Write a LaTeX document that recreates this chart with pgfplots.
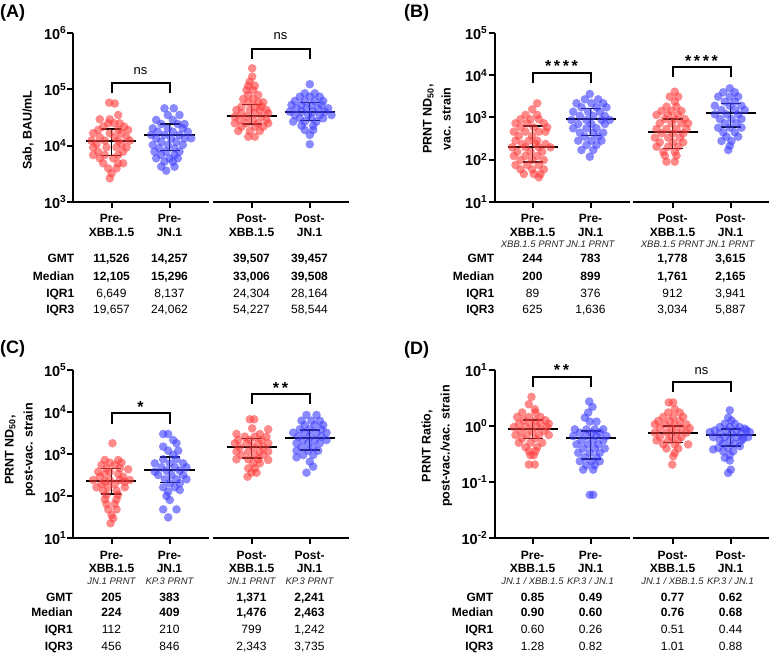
\documentclass[border=0pt]{standalone}
\usepackage{fontspec}
\setmainfont{Liberation Sans}
\usepackage{pgfplots}
\pgfplotsset{compat=1.18}
\definecolor{dred}{RGB}{255,60,60}
\definecolor{dblue}{RGB}{60,60,255}
\pgfplotsset{
  /pgfplots/pnl/.style={
    scale only axis, xmin=0, clip=false,
    axis x line=none, axis y line*=left,
    axis line style={line width=2pt},
    ytick style={line width=2pt, black},
    major tick length=6pt, tick align=outside,
    yminorticks=false,
    yticklabel style={font=\fontsize{14.5}{14.5}\selectfont\bfseries, inner sep=1pt},
  },
  /pgfplots/reddots/.style={only marks, mark=*, mark size=4.3pt, forget plot,
    mark options={draw=dred, fill=dred, fill opacity=0.6, draw opacity=0}},
  /pgfplots/bluedots/.style={only marks, mark=*, mark size=4.3pt, forget plot,
    mark options={draw=dblue, fill=dblue, fill opacity=0.6, draw opacity=0}},
}
% #1 left end, #2 centre, #3 right end, #4 cap left, #5 cap right, #6 median, #7 q1, #8 q3
\newcommand{\summ}[8]{%
  \addplot[black, line width=2pt, no markers, forget plot] coordinates {(#1,#6) (#3,#6)};
  \addplot[black, line width=1.5pt, no markers, forget plot] coordinates {(#2,#7) (#2,#8)};
  \addplot[black, line width=1.5pt, no markers, forget plot] coordinates {(#4,#7) (#5,#7)};
  \addplot[black, line width=1.5pt, no markers, forget plot] coordinates {(#4,#8) (#5,#8)};
}
\tikzset{
  catl/.style={font=\fontsize{12}{12}\selectfont\bfseries, inner sep=0pt, text height=8.6pt, text depth=0pt, anchor=center},
  subl/.style={font=\fontsize{9.5}{9.5}\selectfont\itshape, text=black!85, inner sep=0pt, text height=6.8pt, text depth=0pt, anchor=center},
  tvb/.style={font=\fontsize{12}{12}\selectfont\bfseries, inner sep=0pt, text height=8.6pt, text depth=0pt, anchor=center},
  tvr/.style={font=\fontsize{12}{12}\selectfont, inner sep=0pt, text height=8.6pt, text depth=0pt, anchor=center},
  rowl/.style={font=\fontsize{12}{12}\selectfont\bfseries, inner sep=0pt, text height=8.6pt, text depth=0pt, anchor=east},
  ylab/.style={font=\fontsize{12.5}{19}\selectfont\bfseries, rotate=90, align=center, inner sep=0pt},
  plab/.style={font=\fontsize{18}{18}\selectfont\bfseries, anchor=base west, inner sep=0pt},
  sigl/.style={font=\fontsize{13}{13}\selectfont, anchor=base, inner sep=0pt},
  astl/.style={font=\fontsize{16}{16}\selectfont\bfseries, anchor=base, inner sep=0pt},
  brk/.style={line width=2pt},
}
\newcommand{\vals}[6]{%
  \node[#2] at (\ca,#1) {#3};
  \node[#2] at (\cb,#1) {#4};
  \node[#2] at (\cc,#1) {#5};
  \node[#2] at (\cd,#1) {#6};}
\begin{document}
\begin{tikzpicture}
\path[use as bounding box] (0pt,0pt) rectangle (769pt,653pt);

%================ (A)
\begin{axis}[pnl, ymode=log, at={(73.5pt,451pt)}, anchor=south west, width=275pt, height=169pt,
  xmax=275, ymin=1e3, ymax=1e6, ytick={1e3,1e4,1e5,1e6},
  yticklabels={10\textsuperscript{3},10\textsuperscript{4},10\textsuperscript{5},10\textsuperscript{6}}]
\addplot[reddots] table {
x y
35.7 57900
41.3 56000
44.7 35000
26.3 29400
36.3 29400
34.7 24900
40.7 24900
46.3 24900
29.7 21700
50.7 21700
24.7 19000
44.7 19000
54.7 19000
19.7 16600
36.3 16600
48 16600
26.3 14100
41.3 14100
53 14100
18 12300
31.3 12300
44.7 12300
56.3 12300
23 10700
48 10700
19.7 9340
33 9340
43 9340
53 9340
24.7 7820
49.7 7820
19.7 6830
31.3 6830
44.7 6830
26.3 5960
39.7 5960
29.7 4860
44.7 4860
49.7 4860
34.7 3960
43 3960
38 3230
36.3 2630
};
\addplot[bluedots] table {
x y
91 46000
100.3 46000
94.3 35000
106 35000
82.7 28600
99.3 28600
87.7 24200
104.3 24200
111 24200
79.3 20300
94.3 20300
109.3 20300
84.3 17700
99.3 17700
114.3 17700
77.7 15500
91 15500
106 15500
82.7 13500
97.7 13500
111 13500
117.7 13500
87.7 11800
102.7 11800
79.3 10300
94.3 10300
109.3 10300
86 8980
101 8980
81 7820
92.7 7820
106 7820
87.7 6830
101 6830
82.7 5960
96 5960
104.3 5960
91 5200
99.3 5200
87.7 4240
101 4240
92.7 3600
};
\addplot[reddots] table {
x y
178.7 236000
178.7 168000
176.3 137000
174.7 116000
181.3 116000
173 97300
179.7 97300
174.7 79400
184.7 79400
169.7 67400
179.7 67400
174.7 58800
184.7 58800
189.7 58800
168 49200
181.3 49200
188 49200
163 43000
176.3 43000
186.3 43000
193 43000
168 37500
181.3 37500
194.7 37500
161.3 32700
173 32700
188 32700
166.3 28600
179.7 28600
193 28600
161.3 24900
173 24900
184.7 24900
194.7 24900
168 21700
181.3 21700
189.7 21700
164.7 18200
176.3 18200
186.3 18200
174.7 14400
181.3 14400
};
\addplot[bluedots] table {
x y
236.3 123000
231.3 85000
241.3 85000
226.3 74100
236.3 74100
246.3 74100
221.3 62100
231.3 62100
241.3 62100
249.7 62100
218 52700
228 52700
238 52700
248 52700
223 46000
233 46000
244.7 46000
254.7 46000
216.3 40100
228 40100
239.7 40100
251.3 40100
221.3 35000
234.7 35000
246.3 35000
258 35000
226.3 30600
238 30600
249.7 30600
219.7 26700
231.3 26700
243 26700
228 22600
239.7 22600
231.3 19000
239.7 19000
236.3 15500
236.3 10600
};
\summ{13}{38}{63}{28}{48}{12105}{6649}{19657}
\summ{71}{96}{121}{86}{106}{15296}{8137}{24062}
\summ{153}{178}{203}{168}{188}{33006}{24304}{54227}
\summ{211}{236}{261}{226}{246}{39508}{28164}{58544}
\end{axis}

%================ (B)
\begin{axis}[pnl, ymode=log, at={(494.5pt,451pt)}, anchor=south west, width=274pt, height=169pt,
  xmax=274, ymin=1e1, ymax=1e5, ytick={1e1,1e2,1e3,1e4,1e5},
  yticklabels={10\textsuperscript{1},10\textsuperscript{2},10\textsuperscript{3},10\textsuperscript{4},10\textsuperscript{5}}]
\addplot[reddots] table {
x y
42.7 2170
37.7 1560
31 1150
42.7 1150
26 906
36 906
44.3 906
21 728
32.7 728
49.3 728
26 585
39.3 585
52.7 585
19.3 462
31 462
44.3 462
51 462
24.3 365
37.7 365
21 283
34.3 283
42.7 283
27.7 236
41 236
51 236
17.7 197
31 197
44.3 197
56 197
22.7 155
36 155
47.7 155
19.3 123
31 123
42.7 123
26 98.6
37.7 98.6
49.3 98.6
21 75.1
32.7 75.1
44.3 75.1
26 59.3
37.7 59.3
49.3 59.3
29.3 46
39.3 46
46 46
44.3 38.4
};
\addplot[bluedots] table {
x y
95.3 3600
90.3 2690
103.7 2690
82 2170
97 2170
108.7 2170
87 1740
102 1740
112 1740
78.7 1370
93.7 1370
105.3 1370
85.3 1090
98.7 1090
110.3 1090
77 873
92 873
107 873
115.3 873
83.7 702
97 702
110.3 702
78.7 555
92 555
102 555
85.3 437
98.7 437
108.7 437
90.3 352
103.7 352
83.7 283
97 283
107 283
92 223
102 223
87 170
98.7 170
95.3 118
};
\addplot[reddots] table {
x y
180.3 4080
175.3 3110
183.7 3110
180.3 2370
172 1800
182 1800
167 1430
177 1430
187 1430
162 1150
173.7 1150
183.7 1150
170.3 921
180.3 921
190.3 921
165.3 728
177 728
187 728
193.7 728
162 535
172 535
182 535
192 535
167 422
178.7 422
188.7 422
160.3 333
173.7 333
185.3 333
165.3 258
178.7 258
188.7 258
162 204
173.7 204
183.7 204
168.7 155
180.3 155
170.3 125
182 125
172 90
180.3 90
};
\addplot[bluedots] table {
x y
235.3 4900
228.7 3950
240.3 3950
223.7 3110
235.3 3110
243.7 3110
230.3 2370
240.3 2370
220.3 1900
235.3 1900
247 1900
227 1500
240.3 1500
250.3 1500
220.3 1190
232 1190
243.7 1190
225.3 921
237 921
247 921
230.3 728
242 728
223.7 574
235.3 574
247 574
228.7 446
240.3 446
232 352
243.7 352
227 278
237 278
235.3 215
233.7 170
};
\summ{13}{38}{63}{28}{48}{200}{89}{625}
\summ{71}{96}{121}{86}{106}{899}{376}{1636}
\summ{153}{178}{203}{168}{188}{446}{185}{915}
\summ{211}{236}{261}{226}{246}{1280}{590}{2170}
\end{axis}

%================ (C)
\begin{axis}[pnl, ymode=log, at={(73.5pt,115pt)}, anchor=south west, width=275pt, height=168pt,
  xmax=275, ymin=1e1, ymax=1e5, ytick={1e1,1e2,1e3,1e4,1e5},
  yticklabels={10\textsuperscript{1},10\textsuperscript{2},10\textsuperscript{3},10\textsuperscript{4},10\textsuperscript{5}}]
\addplot[reddots] table {
x y
39 1800
31.3 720
44.7 720
36.3 622
48 622
28 547
41.3 547
33 456
46.3 456
54.7 432
24.7 379
36.3 379
31.3 334
44.7 334
26.3 288
49.7 288
19.7 240
36.3 240
46.3 240
56.3 240
31.3 219
51.3 219
28 193
41.3 193
23 161
34.7 161
51.3 161
29.7 134
43 134
33 106
44.7 106
31.3 83
43 83
33 64.5
41.3 64.5
34.7 48
43 48
38 35.3
39.7 29.4
37 22.4
};
\addplot[bluedots] table {
x y
89.7 2990
94.7 2990
99.7 2150
103 1800
89.7 1500
94.7 1200
104.7 1200
99.7 947
89.7 747
103 747
81.3 600
96.3 600
109.7 600
88 482
101.3 482
113 482
93 401
106.3 401
81.3 379
84.7 316
98 316
109.7 316
91.3 250
103 250
113 250
96.3 200
106.3 200
89.7 161
101.3 161
106.3 139
94.7 127
93 100
96.3 80.3
89.7 48
103 48
94.7 31
};
\addplot[reddots] table {
x y
176.3 6690
180.7 6690
178.7 4080
194.7 3870
163 2990
186.3 2990
171.3 2590
181.3 2590
193 2590
164.7 2150
176.3 2150
188 2150
161.3 1800
173 1800
184.7 1800
194.7 1800
166.3 1440
179.7 1440
189.7 1440
163 1140
174.7 1140
186.3 1140
194.7 1140
168 947
181.3 947
189.7 947
163 747
174.7 747
184.7 747
194.7 720
179.7 600
186.3 600
174.7 456
181.3 456
178 359
183 359
174 288
};
\addplot[bluedots] table {
x y
233 8490
243 8490
228 6220
238 6220
246.3 6220
231.3 4900
241.3 4900
249.7 4900
226.3 3870
236.3 3870
248 3870
219.7 3220
231.3 3220
243 3220
253 3220
224.7 2590
236.3 2590
248 2590
229.7 2150
241.3 2150
253 2150
223 1800
234.7 1800
246.3 1800
228 1440
239.7 1440
223 1200
234.7 1200
244.7 1200
229.7 947
239.7 947
223 834
236.3 656
239.7 499
233 359
};
\summ{13}{38}{63}{28}{48}{224}{112}{456}
\summ{71}{96}{121}{86}{106}{409}{210}{846}
\summ{153}{178}{203}{168}{188}{1476}{799}{2343}
\summ{211}{236}{261}{226}{246}{2463}{1242}{3735}
\end{axis}

%================ (D)
\begin{axis}[pnl, ymode=log, at={(494.5pt,115pt)}, anchor=south west, width=274pt, height=168pt,
  xmax=274, ymin=1e-2, ymax=1e1, ytick={1e-2,1e-1,1e0,1e1},
  yticklabels={10\textsuperscript{-2},10\textsuperscript{-1},10\textsuperscript{0},10\textsuperscript{1}}]
\addplot[reddots] table {
x y
37 3.31
34.3 2.45
40.3 1.99
27.7 1.74
41 1.74
22.7 1.45
34.3 1.45
46 1.45
29.3 1.26
41 1.26
51 1.26
24.3 1.10
36 1.10
46 1.10
54.3 1.10
19.3 0.957
31 0.957
42.7 0.957
52.7 0.957
26 0.811
37.7 0.811
49.3 0.811
21 0.689
32.7 0.689
44.3 0.689
54.3 0.689
27.7 0.600
41 0.600
24.3 0.502
36 0.502
47.7 0.502
31 0.419
42.7 0.419
34.3 0.355
41 0.355
36 0.301
39.3 0.301
34.3 0.205
40.3 0.205
};
\addplot[bluedots] table {
x y
94.7 2.74
98 2.19
93.7 1.74
90.3 1.41
95.3 1.20
102 1.20
80.3 0.871
92 0.871
100.3 0.871
108.7 0.871
85.3 0.760
97 0.760
105.3 0.760
78.7 0.661
92 0.661
102 0.661
112 0.661
87 0.552
98.7 0.552
108.7 0.552
82 0.469
93.7 0.469
103.7 0.469
88.7 0.397
100.3 0.397
110.3 0.397
83.7 0.332
95.3 0.332
105.3 0.332
90.3 0.277
102 0.277
85.3 0.235
97 0.235
105.3 0.235
92 0.199
100.3 0.199
88.7 0.166
98.7 0.166
95.3 0.059
98.7 0.059
};
\addplot[reddots] table {
x y
174.3 2.63
178.7 2.63
180.3 1.99
173.7 1.74
185.3 1.74
168.7 1.45
178.7 1.45
188.7 1.45
163.7 1.23
175.3 1.23
185.3 1.23
160.3 1.07
170.3 1.07
180.3 1.07
192 1.07
165.3 0.908
177 0.908
187 0.908
195.3 0.908
160.3 0.760
172 0.760
182 0.760
192 0.760
165.3 0.634
177 0.634
187 0.634
162 0.552
173.7 0.552
183.7 0.552
168.7 0.469
180.3 0.469
193.7 0.469
172 0.397
183.7 0.397
180.3 0.332
178.7 0.288
177.7 0.205
};
\addplot[bluedots] table {
x y
235.3 1.91
233.7 1.41
237 1.26
230.3 1.10
240.3 1.10
225.3 0.957
235.3 0.957
245.3 0.957
250.3 0.895
220.3 0.836
232 0.836
242 0.836
252 0.836
215.3 0.780
255.3 0.780
225.3 0.728
237 0.728
247 0.728
218.7 0.634
230.3 0.634
242 0.634
253.7 0.634
248.7 0.593
225.3 0.552
235.3 0.552
247 0.552
228.7 0.482
240.3 0.482
245.3 0.436
223.7 0.408
233.7 0.408
218.7 0.381
228.7 0.355
238.7 0.355
235.3 0.301
230.3 0.270
235.3 0.242
236.3 0.166
233.7 0.145
};
\summ{13}{38}{63}{28}{48}{0.90}{0.60}{1.28}
\summ{71}{96}{121}{86}{106}{0.60}{0.26}{0.82}
\summ{153}{178}{203}{168}{188}{0.76}{0.51}{1.01}
\summ{211}{236}{261}{226}{246}{0.68}{0.44}{0.88}
\end{axis}

%================ annotations in pixel coordinates (y downward)
\begin{scope}[x=1pt, y=-1pt, yshift=653pt]
% ---- (A)
\node[plab] at (0,18) {(A)};
\node[ylab] at (28,130) {Sab, BAU/mL};
\draw[line width=2pt] (72.5,202) -- (209,202) (213,202) -- (348.5,202);
\foreach \c in {111.5,169.5,251.5,309.5} \draw[line width=2pt] (\c,202) -- (\c,208);
\draw[brk] (111.5,93.3) -- (111.5,83.3) -- (169.5,83.3) -- (169.5,93.3);
\node[sigl] at (140.5,75) {ns};
\draw[brk] (251.5,58.7) -- (251.5,49.3) -- (309.5,49.3) -- (309.5,58.7);
\node[sigl] at (280.5,39.4) {ns};
\def\ca{111.5}\def\cb{169.5}\def\cc{251.5}\def\cd{309.5}
\vals{218}{catl}{Pre-}{Pre-}{Post-}{Post-}
\vals{232}{catl}{XBB.1.5}{JN.1}{XBB.1.5}{JN.1}
\node[rowl] at (74.5,258) {GMT};
\node[rowl] at (74.5,276) {Median};
\node[rowl] at (74.5,293) {IQR1};
\node[rowl] at (74.5,309) {IQR3};
\vals{258}{tvb}{11,526}{14,257}{39,507}{39,457}
\vals{276}{tvb}{12,105}{15,296}{33,006}{39,508}
\vals{293}{tvr}{6,649}{8,137}{24,304}{28,164}
\vals{309}{tvr}{19,657}{24,062}{54,227}{58,544}

% ---- (B)
\node[plab] at (404,18) {(B)};
\node[ylab] at (437,119) {PRNT ND\textsubscript{50},\\vac. strain};
\draw[line width=2pt] (493.5,202) -- (630,202) (633,202) -- (768.5,202);
\foreach \c in {532.5,590.5,672.5,730.5} \draw[line width=2pt] (\c,202) -- (\c,208);
\draw[brk] (532.5,83.3) -- (532.5,73.3) -- (590.5,73.3) -- (590.5,83.3);
\node[astl] at (561.5,72) {*\,*\,*\,*};
\draw[brk] (672.5,77.3) -- (672.5,67.5) -- (730.5,67.5) -- (730.5,77.3);
\node[astl] at (701.5,66.6) {*\,*\,*\,*};
\def\ca{532.5}\def\cb{590.5}\def\cc{672.5}\def\cd{730.5}
\vals{218}{catl}{Pre-}{Pre-}{Post-}{Post-}
\vals{232}{catl}{XBB.1.5}{JN.1}{XBB.1.5}{JN.1}
\vals{244}{subl}{XBB.1.5 PRNT}{JN.1 PRNT}{XBB.1.5 PRNT}{JN.1 PRNT}
\node[rowl] at (494.5,258) {GMT};
\node[rowl] at (494.5,276) {Median};
\node[rowl] at (494.5,293) {IQR1};
\node[rowl] at (494.5,309) {IQR3};
\vals{258}{tvb}{244}{783}{1,778}{3,615}
\vals{276}{tvb}{200}{899}{1,761}{2,165}
\vals{293}{tvr}{89}{376}{912}{3,941}
\vals{309}{tvr}{625}{1,636}{3,034}{5,887}

% ---- (C)
\node[plab] at (0,353.4) {(C)};
\node[ylab] at (20,450) {PRNT ND\textsubscript{50},\\post-vac. strain};
\draw[line width=2pt] (72.5,538) -- (209,538) (213,538) -- (348.5,538);
\foreach \c in {111.5,169.5,251.5,309.5} \draw[line width=2pt] (\c,538) -- (\c,544);
\draw[brk] (111.5,424.3) -- (111.5,413.3) -- (169.5,413.3) -- (169.5,424.3);
\node[astl] at (140.5,412.6) {*};
\draw[brk] (251.5,404.3) -- (251.5,394.3) -- (309.5,394.3) -- (309.5,404.3);
\node[astl] at (280.5,393.6) {*\,*};
\def\ca{111.5}\def\cb{169.5}\def\cc{251.5}\def\cd{309.5}
\vals{555}{catl}{Pre-}{Pre-}{Post-}{Post-}
\vals{568}{catl}{XBB.1.5}{JN.1}{XBB.1.5}{JN.1}
\vals{581}{subl}{JN.1 PRNT}{KP.3 PRNT}{JN.1 PRNT}{KP.3 PRNT}
\node[rowl] at (73,597) {GMT};
\node[rowl] at (73,612) {Median};
\node[rowl] at (73,629) {IQR1};
\node[rowl] at (73,646) {IQR3};
\vals{597}{tvb}{205}{383}{1,371}{2,241}
\vals{612}{tvb}{224}{409}{1,476}{2,463}
\vals{629}{tvr}{112}{210}{799}{1,242}
\vals{646}{tvr}{456}{846}{2,343}{3,735}

% ---- (D)
\node[plab] at (404,355) {(D)};
\node[ylab] at (437,446) {PRNT Ratio,\\post-vac./vac. strain};
\draw[line width=2pt] (493.5,538) -- (630,538) (633,538) -- (768.5,538);
\foreach \c in {532.5,590.5,672.5,730.5} \draw[line width=2pt] (\c,538) -- (\c,544);
\draw[brk] (532.5,386.7) -- (532.5,376.7) -- (590.5,376.7) -- (590.5,386.7);
\node[astl] at (561.5,376) {*\,*};
\draw[brk] (672.5,391.7) -- (672.5,381.7) -- (730.5,381.7) -- (730.5,391.7);
\node[sigl] at (701.5,374.4) {ns};
\def\ca{532.5}\def\cb{590.5}\def\cc{672.5}\def\cd{730.5}
\vals{555}{catl}{Pre-}{Pre-}{Post-}{Post-}
\vals{568}{catl}{XBB.1.5}{JN.1}{XBB.1.5}{JN.1}
\vals{581}{subl}{JN.1 / XBB.1.5}{KP.3 / JN.1}{JN.1 / XBB.1.5}{KP.3 / JN.1}
\node[rowl] at (493.5,597) {GMT};
\node[rowl] at (493.5,612) {Median};
\node[rowl] at (493.5,629) {IQR1};
\node[rowl] at (493.5,646) {IQR3};
\vals{597}{tvb}{0.85}{0.49}{0.77}{0.62}
\vals{612}{tvb}{0.90}{0.60}{0.76}{0.68}
\vals{629}{tvr}{0.60}{0.26}{0.51}{0.44}
\vals{646}{tvr}{1.28}{0.82}{1.01}{0.88}
\end{scope}
\end{tikzpicture}
\end{document}
